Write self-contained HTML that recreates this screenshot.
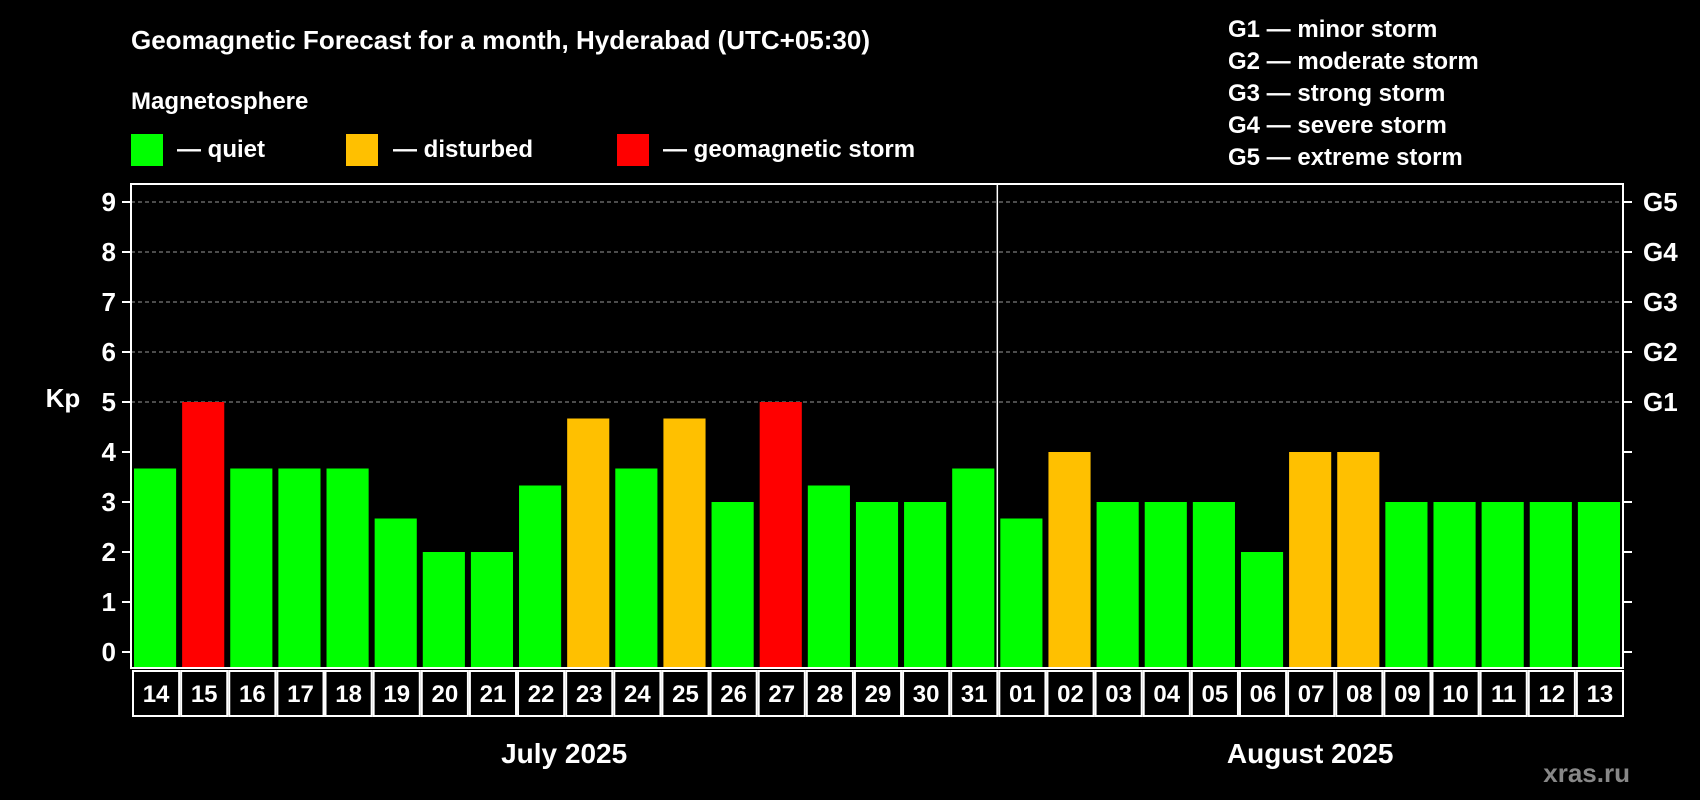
<!DOCTYPE html>
<html><head><meta charset="utf-8">
<style>
html,body{margin:0;padding:0;background:#000;}
svg{display:block;font-family:"Liberation Sans",Arial,sans-serif;font-weight:bold;}
</style></head>
<body>
<svg id="chart" width="1700" height="800" viewBox="0 0 1700 800" xmlns="http://www.w3.org/2000/svg">
<rect width="1700" height="800" fill="#000"/>
<text x="131" y="49" fill="#fff" font-size="26">Geomagnetic Forecast for a month, Hyderabad (UTC+05:30)</text>
<text x="131" y="109" fill="#fff" font-size="24">Magnetosphere</text>
<g><rect x="131" y="134" width="32" height="32" fill="#00ff00"/><text x="177" y="157" fill="#fff" font-size="24">— quiet</text></g>
<g><rect x="346" y="134" width="32" height="32" fill="#ffc000"/><text x="393" y="157" fill="#fff" font-size="24">— disturbed</text></g>
<g><rect x="617" y="134" width="32" height="32" fill="#ff0000"/><text x="663" y="157" fill="#fff" font-size="24">— geomagnetic storm</text></g>
<g fill="#fff" font-size="24">
<text x="1228" y="37">G1 — minor storm</text>
<text x="1228" y="69">G2 — moderate storm</text>
<text x="1228" y="101">G3 — strong storm</text>
<text x="1228" y="133">G4 — severe storm</text>
<text x="1228" y="165">G5 — extreme storm</text>
</g>
<text x="63" y="407" fill="#fff" font-size="26" text-anchor="middle">Kp</text>
<text x="1630" y="782" fill="#888" font-size="26" text-anchor="end">xras.ru</text>
<g id="grid"></g><g id="bars"></g><g id="axes"></g>
</svg>
<script>
const days = ["14","15","16","17","18","19","20","21","22","23","24","25","26","27","28","29","30","31","01","02","03","04","05","06","07","08","09","10","11","12","13"];
const kpValues = [3.67,5,3.67,3.67,3.67,2.67,2,2,3.33,4.67,3.67,4.67,3,5,3.33,3,3,3.67,2.67,4,3,3,3,2,4,4,3,3,3,3,3];
const yTicks = [0,1,2,3,4,5,6,7,8,9];
const gLabels = ["G1","G2","G3","G4","G5"];
const months = ["July 2025","August 2025"];
const monthDays = [18,13];

const NS="http://www.w3.org/2000/svg";
const L=131,R=1623,T=184,B=668;
const y0=652,unit=50;
const slot=(R-L)/days.length;
const yS=v=>y0-v*unit;
const xS=i=>L+i*slot;
function mk(tag,attrs,parent){const e=document.createElementNS(NS,tag);for(const k in attrs)e.setAttribute(k,attrs[k]);parent.appendChild(e);return e;}
const grid=document.getElementById('grid'),bars=document.getElementById('bars'),axes=document.getElementById('axes');

yTicks.forEach(v=>{
  if(v>=5){const g=mk('line',{x1:L,x2:R,y1:yS(v),y2:yS(v),stroke:'#999','stroke-width':1,'stroke-dasharray':'4,3'},grid);
  
  }
  mk('line',{x1:L-9,x2:L,y1:yS(v),y2:yS(v),stroke:'#fff','stroke-width':2},axes);
  mk('line',{x1:R,x2:R+9,y1:yS(v),y2:yS(v),stroke:'#fff','stroke-width':2},axes);
  const t=mk('text',{x:L-15,y:yS(v)+9,fill:'#fff','font-size':26,'text-anchor':'end'},axes);
  t.textContent=v;
  
  
});
gLabels.forEach((g,i)=>{
  const t=mk('text',{x:R+20,y:yS(5+i)+9,fill:'#fff','font-size':26},axes);
  t.textContent=g;
  
  
});
kpValues.forEach((v,i)=>{
  const c=v>=5?'#ff0000':(v>=4?'#ffc000':'#00ff00');
  const r=mk('rect',{x:xS(i)+3,y:yS(v),width:slot-6,height:B-yS(v),fill:c},bars);
  
  
});
mk('rect',{x:L,y:T,width:R-L,height:B-T,fill:'none',stroke:'#fff','stroke-width':2},axes);
const dv=mk('line',{x1:xS(monthDays[0]),x2:xS(monthDays[0]),y1:T,y2:B,stroke:'#fff','stroke-width':1.5},axes);


days.forEach((d,i)=>{
  const b=mk('rect',{x:xS(i)+2,y:671,width:slot-2,height:45,fill:'none',stroke:'#fff','stroke-width':2},axes);
  
  
  const t=mk('text',{x:xS(i)+slot/2+1,y:702,fill:'#fff','font-size':24,'text-anchor':'middle'},axes);
  t.textContent=d;
  
  
});
let start=0;
months.forEach((m,i)=>{
  const cx=xS(start+monthDays[i]/2);
  const t=mk('text',{x:cx,y:763,fill:'#fff','font-size':28,'text-anchor':'middle'},axes);
  t.textContent=m;
  
  
  start+=monthDays[i];
});
</script>
</body></html>
